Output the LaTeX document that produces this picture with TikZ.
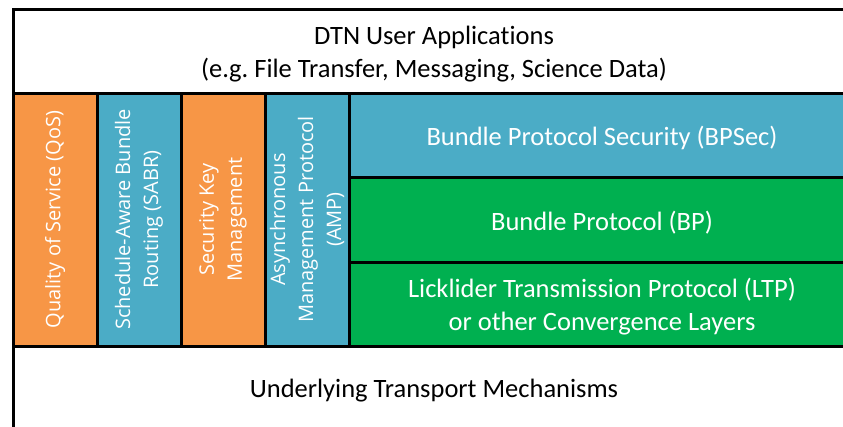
\documentclass[tikz,border=0pt]{standalone}
\usepackage{fontspec}
\setmainfont[Ligatures=NoCommon]{Carlito}
\newfontfamily\vfont{Open Sans}
\definecolor{dtnorange}{HTML}{F79646}
\definecolor{dtnblue}{HTML}{4BACC6}
\definecolor{dtngreen}{HTML}{00B050}
\tikzset{
  layer/.style={draw=black, line width=3pt, inner sep=0pt},
  wide/.style={layer, fill=white, minimum width=842, minimum height=84},
  stack/.style={layer, minimum width=506},
  label text/.style={inner sep=0pt, align=center, yshift=-3pt,
    font=\frenchspacing\fontsize{26.5}{33}\selectfont},
  col/.style={draw=black, line width=3pt, inner sep=0pt, align=center, rotate=90,
    text=white, minimum width=253, minimum height=84,
    font=\vfont\fontsize{20}{28}\selectfont},
}
\begin{document}
\begin{tikzpicture}[x=1pt,y=-1pt]
\useasboundingbox (0,0) rectangle (843,426);
\clip (0,0) rectangle (843,426);
\fill[white] (0,0) rectangle (843,426);
\node[wide] (apps) at (434,51) {};
\node[label text, text=black] (apps-t) at (apps.center) {DTN User Applications\\(e.g. File Transfer, Messaging, Science Data)};
\node[wide] (transport) at (434,388) {};
\node[label text, text=black] (transport-t) at (transport.center) {Underlying Transport Mechanisms};
\node[col, fill=dtnorange] (qos) at (55,219.5) {Quality of Service (QoS)};
\node[col, fill=dtnblue] (sabr) at (139,219.5) {Schedule-Aware Bundle\\Routing (SABR)};
\node[col, fill=dtnorange] (skm) at (223,219.5) {Security Key\\Management};
\node[col, fill=dtnblue] (amp) at (307,219.5) {Asynchronous\\Management Protocol\\(AMP)};
\node[stack, fill=dtnblue, minimum height=84] (bpsec) at (602,135) {};
\node[label text, text=white] (bpsec-t) at (bpsec.center) {Bundle Protocol Security (BPSec)};
\node[stack, fill=dtngreen, minimum height=85] (bp) at (602,219.5) {};
\node[label text, text=white] (bp-t) at (bp.center) {Bundle Protocol (BP)};
\node[stack, fill=dtngreen, minimum height=84] (ltp) at (602,304) {};
\node[label text, text=white] (ltp-t) at (ltp.center) {Licklider Transmission Protocol (LTP)\\or other Convergence Layers};
\end{tikzpicture}
\end{document}
